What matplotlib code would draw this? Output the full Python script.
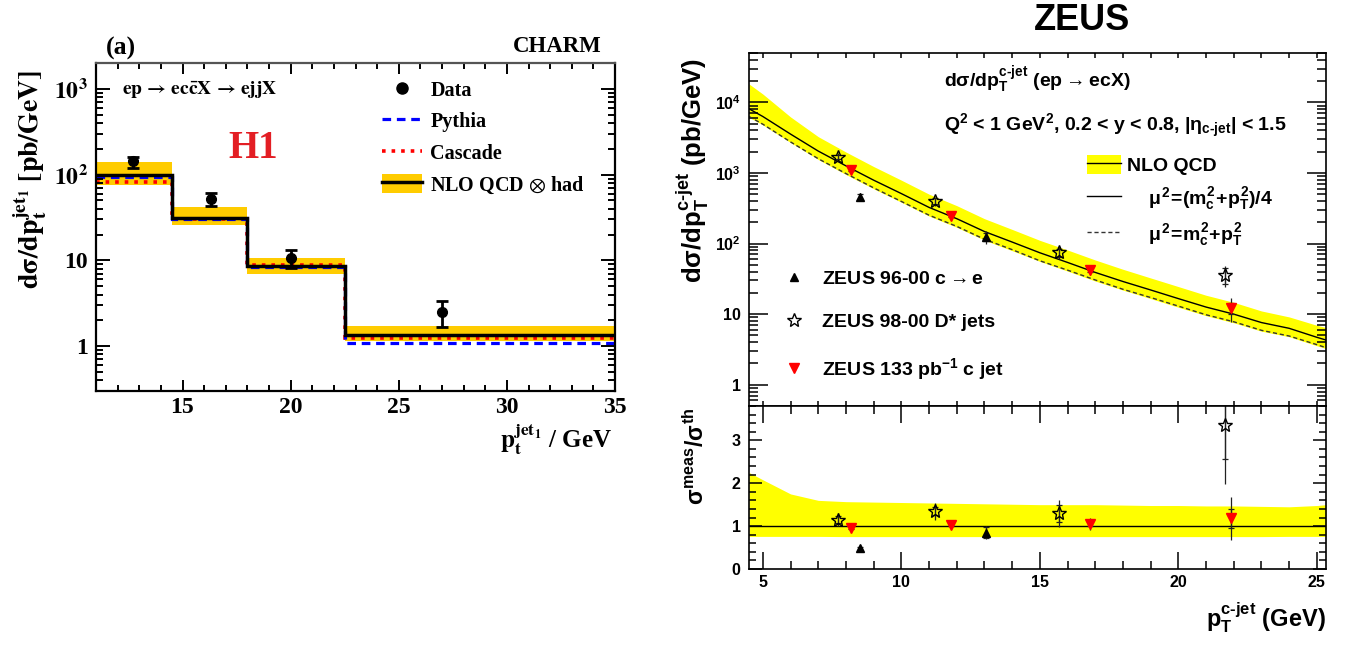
import matplotlib
matplotlib.use('Agg')
import matplotlib.pyplot as plt
import numpy as np
from matplotlib.ticker import MultipleLocator, LogLocator, NullFormatter
from matplotlib.lines import Line2D
from matplotlib.patches import Patch

plt.rcParams['mathtext.fontset'] = 'custom'
plt.rcParams['mathtext.rm'] = 'Liberation Sans:bold'
plt.rcParams['mathtext.it'] = 'Liberation Sans:bold'
plt.rcParams['mathtext.bf'] = 'Liberation Sans:bold'
plt.rcParams['mathtext.sf'] = 'Liberation Sans:bold'
plt.rcParams['mathtext.fallback'] = 'stixsans'

W, H = 1346, 649

# ---- H1 (a) CHARM : dsigma/dpt jet1
bin_edges = [11, 14.5, 18, 22.5, 35]
nlo_had = [98, 31, 8.5, 1.34]
nlo_had_lo = [76, 26, 6.9, 1.14]
nlo_had_hi = [140, 42, 10.8, 1.72]
pythia = [95, 30.5, 8.4, 1.08]
cascade = [83, 30, 8.9, 1.24]
h1_x = [12.7, 16.3, 20.0, 27.0]
h1_y = [143, 52, 10.8, 2.48]
h1_err_lo = [23, 9.5, 2.7, 0.8]
h1_err_hi = [19, 9, 2.5, 0.92]

# ---- ZEUS c-jet
nlo_x = [4.5, 5, 6, 7, 8, 9, 10, 11, 12, 13, 14, 15, 16, 17, 18, 19, 20,
         21, 22, 23, 24, 25, 25.33]
nlo_qcd = [8100, 6300, 3550, 2040, 1260, 790, 510, 325, 225, 148, 105, 74,
           54, 39, 29, 22, 16.6, 12.6, 10.0, 7.6, 6.3, 4.7, 4.3]
nlo_qcd_mu2 = [6300, 4900, 2750, 1590, 980, 615, 395, 252, 175, 115, 82, 57,
               42, 30.5, 22.5, 17.2, 13, 9.8, 7.8, 5.9, 4.9, 3.7, 3.35]
band_ratio_lo = [0.76, 0.76, 0.76, 0.76, 0.755, 0.755, 0.755, 0.755, 0.755,
                 0.755, 0.755, 0.755, 0.755, 0.755, 0.755, 0.755, 0.755,
                 0.755, 0.755, 0.755, 0.76, 0.76, 0.76]
band_ratio_hi = [2.25, 2.08, 1.75, 1.6, 1.57, 1.56, 1.55, 1.54, 1.53, 1.52,
                 1.51, 1.5, 1.5, 1.5, 1.49, 1.48, 1.48, 1.47, 1.47, 1.46,
                 1.45, 1.48, 1.5]

ce_x = [8.5, 13.05]
ce_y = [460, 125]
ce_err = [60, 25]
ce_stat = [40, 15]
ce_ratio = [0.48, 0.85]
ce_ratio_err = [0.07, 0.15]
ce_ratio_stat = [0.04, 0.13]

dst_x = [7.7, 11.2, 15.7, 21.7]
dst_y = [1700, 400, 75, 36]
dst_err = [200, 55, 14, 12]
dst_stat = [120, 35, 10, 9]
dst_ratio = [1.15, 1.35, 1.30, 3.36]
dst_ratio_err = [0.15, 0.2, 0.31, 1.37]
dst_ratio_stat = [0.08, 0.1, 0.2, 0.79]

cj_x = [8.2, 11.8, 16.8, 21.9]
cj_y = [1100, 245, 42, 12.3]
cj_err = [90, 20, 6, 4.5]
cj_stat = [40, 10, 3, 2.2]
cj_ratio = [0.95, 1.03, 1.05, 1.18]
cj_ratio_err = [0.04, 0.04, 0.15, 0.51]
cj_ratio_stat = [0.02, 0.02, 0.05, 0.23]


def px_box(x0, y0, x1, y1):
    return [x0 / W, 1 - y1 / H, (x1 - x0) / W, (y1 - y0) / H]


fig = plt.figure(figsize=(W / 100, H / 100), dpi=100)

serif = dict(family='Liberation Serif', weight='bold')
sans = dict(family='Liberation Sans', weight='bold')

# ================= left : H1 =================
axL = fig.add_axes(px_box(96, 63, 615, 391))
axL.stairs(nlo_had_hi, bin_edges, baseline=nlo_had_lo, fill=True,
           color='#ffcc00', lw=0)
axL.stairs(cascade, bin_edges, baseline=None, color='red', ls=':', lw=2.6)
axL.stairs(pythia, bin_edges, baseline=None, color='blue',
           ls=(0, (2.7, 1.8)), lw=2.3)
axL.stairs(nlo_had, bin_edges, baseline=None, color='black', lw=2.5)
axL.errorbar(h1_x, h1_y, yerr=[h1_err_lo, h1_err_hi], fmt='o', color='black',
             ms=7, capsize=4, elinewidth=2, capthick=2)

axL.set_yscale('log')
axL.set_xlim(11, 35)
axL.set_ylim(0.3, 2000)
axL.set_xticks([15, 20, 25, 30, 35], labels=['15', '20', '25', '30', '35'],
               fontsize=17, **serif)
axL.set_yticks([1, 10, 100, 1000],
               labels=['1', '10', r'$\mathbf{10^{2}}$', r'$\mathbf{10^{3}}$'],
               fontsize=17, math_fontfamily='stix', **serif)
axL.xaxis.set_minor_locator(MultipleLocator(1))
axL.yaxis.set_minor_locator(LogLocator(subs=np.arange(2, 10)))
axL.yaxis.set_minor_formatter(NullFormatter())
axL.tick_params(which='both', direction='in', top=True, right=True, width=1.4)
axL.tick_params(axis='y', which='major', length=10, pad=6)
axL.tick_params(axis='y', which='minor', length=5)
axL.tick_params(axis='x', which='major', length=7.7, pad=4)
axL.tick_params(axis='x', which='minor', length=4)
for s in axL.spines.values():
    s.set_linewidth(1.6)
axL.spines['top'].set_color('#555555')

legL = axL.legend(
    [Line2D([], [], marker='o', color='black', ls='none', ms=8),
     Line2D([], [], color='blue', ls=(0, (2.7, 1.8)), lw=2.3),
     Line2D([], [], color='red', ls=':', lw=2.6),
     (Patch(facecolor='#ffcc00', lw=0), Line2D([], [], color='black', lw=2.5))],
    ['Data', 'Pythia', 'Cascade', r'NLO QCD $\otimes$ had'],
    loc='upper left', bbox_to_anchor=(0.551, 0.95), frameon=False,
    prop=dict(size=14.5, **serif), handlelength=2.0, handleheight=1.1,
    handletextpad=0.4, labelspacing=0.5, borderaxespad=0, borderpad=0)
for t in legL.get_texts():
    t.set_math_fontfamily('stix')

fig.text(121 / W, 1 - 48 / H, '(a)', fontsize=18.5, ha='center', va='center', **serif)
fig.text(602 / W, 1 - 47 / H, 'CHARM', fontsize=16.5, ha='right', va='center', **serif)
fig.text(122 / W, 1 - 89 / H,
         r'$\mathbf{ep\, \rightarrow\, ec\bar{c}X\, \rightarrow\, ejjX}$',
         fontsize=14, ha='left', va='center', math_fontfamily='stix')
fig.text(253 / W, 1 - 148 / H, 'H1', color='#e31e24', fontsize=28,
         ha='center', va='center', **serif)
fig.text(30 / W, 1 - 180 / H, r'$\mathbf{d\sigma/dp_t^{jet_{1}}\ [pb/GeV]}$',
         fontsize=20, rotation=90, ha='center', va='center', math_fontfamily='stix')
fig.text(612 / W, 1 - 440 / H, r'$\mathbf{p_t^{jet_{1}}}$ / GeV', fontsize=18,
         ha='right', va='center', math_fontfamily='stix', **serif)

# ================= right : ZEUS =================
axT = fig.add_axes(px_box(749, 53, 1326, 406))
axR = fig.add_axes(px_box(749, 406, 1326, 569))

nlo_arr = np.array(nlo_qcd)
axT.fill_between(nlo_x, nlo_arr * np.array(band_ratio_lo),
                 nlo_arr * np.array(band_ratio_hi), color='#ffff00', lw=0)
axT.plot(nlo_x, nlo_qcd, color='black', lw=1)
axT.plot(nlo_x, nlo_qcd_mu2, color='#333333', ls=(0, (3, 2)), lw=1)

axR.fill_between(nlo_x, band_ratio_lo, band_ratio_hi, color='#ffff00', lw=0)
axR.axhline(1, color='black', lw=1)


def points(ax, x, y, err, stat, **kw):
    ax.errorbar(x, y, yerr=err, fmt='none', ecolor='#222222', elinewidth=0.9)
    ax.errorbar(x, y, yerr=stat, fmt='none', ecolor='#222222', elinewidth=0.9,
                capsize=2.5, capthick=0.9)
    ax.plot(x, y, ls='none', **kw)


tri_kw = dict(marker='^', color='black', ms=6)
star_kw = dict(marker='*', mfc='none', mec='black', mew=1, ms=10)
red_kw = dict(marker='v', color='red', ms=7)

points(axT, ce_x, ce_y, ce_err, ce_stat, **tri_kw)
points(axT, dst_x, dst_y, dst_err, dst_stat, **star_kw)
points(axT, cj_x, cj_y, cj_err, cj_stat, **red_kw)
points(axR, ce_x, ce_ratio, ce_ratio_err, ce_ratio_stat, **tri_kw)
points(axR, dst_x, dst_ratio, dst_ratio_err, dst_ratio_stat, **star_kw)
points(axR, cj_x, cj_ratio, cj_ratio_err, cj_ratio_stat, **red_kw)

for ax in (axT, axR):
    ax.set_xlim(4.5, 25.33)
    ax.xaxis.set_major_locator(MultipleLocator(5))
    ax.xaxis.set_minor_locator(MultipleLocator(1))
    ax.tick_params(which='both', direction='in', top=True, right=True, width=1.1)
    for s in ax.spines.values():
        s.set_linewidth(1.2)

axT.set_yscale('log')
axT.set_ylim(0.5, 5e4)
axT.set_yticks([1, 10, 100, 1e3, 1e4],
               labels=['1', '10', '$10^{2}$', '$10^{3}$', '$10^{4}$'],
               fontsize=11.5, **sans)
axT.yaxis.set_minor_locator(LogLocator(subs=np.arange(2, 10)))
axT.yaxis.set_minor_formatter(NullFormatter())
axT.tick_params(labelbottom=False)
axT.tick_params(axis='x', which='both', length=3.5)
axT.tick_params(axis='y', which='major', length=13.5, pad=6)
axT.tick_params(axis='y', which='minor', length=6.5)

axR.set_ylim(0, 3.8)
axR.set_yticks([0, 1, 2, 3], labels=['0', '1', '2', '3'], fontsize=11.5, **sans)
axR.set_xticks([5, 10, 15, 20, 25], labels=['5', '10', '15', '20', '25'],
               fontsize=11.5, **sans)
axR.yaxis.set_minor_locator(MultipleLocator(0.2))
axR.tick_params(axis='x', which='major', length=12, pad=4)
axR.tick_params(axis='x', which='minor', length=5.8)
axR.tick_params(axis='y', which='major', length=9.4, pad=6)
axR.tick_params(axis='y', which='minor', length=5)

leg1 = axT.legend(
    [(Patch(facecolor='#ffff00', lw=0), Line2D([], [], color='black', lw=1)),
     Line2D([], [], color='black', lw=1),
     Line2D([], [], color='#333333', ls=(0, (3, 2)), lw=1)],
    ['NLO QCD', r'    $\mu^2\!=\!(m_c^2\!+\!p_T^2)/4$', r'    $\mu^2\!=\!m_c^2\!+\!p_T^2$'],
    loc='upper left', bbox_to_anchor=(0.586, 0.711), frameon=False,
    prop=dict(size=14, **sans), handlelength=1.75, handleheight=1.15,
    handletextpad=0.3, labelspacing=0.5, borderaxespad=0, borderpad=0)
axT.add_artist(leg1)
axT.legend(
    [Line2D([], [], ls='none', **tri_kw), Line2D([], [], ls='none', **star_kw),
     Line2D([], [], ls='none', **red_kw)],
    [r'ZEUS 96-00 c$\rightarrow$e', 'ZEUS 98-00 D* jets',
     r'ZEUS 133 pb$^{-1}$ c jet'],
    loc='upper left', bbox_to_anchor=(0.055, 0.385), frameon=False,
    prop=dict(size=14, **sans), handlelength=1.4, handletextpad=0.7,
    labelspacing=1.3, borderaxespad=0, borderpad=0)

fig.text(1082 / W, 1 - 20 / H, 'ZEUS', fontsize=26, ha='center', va='center', **sans)
fig.text(944 / W, 1 - 80 / H, r'd$\sigma$/dp$_T^{c\text{-}jet}$ (ep$\rightarrow$ecX)',
         fontsize=14, ha='left', va='center', **sans)
fig.text(944 / W, 1 - 126 / H,
         r'Q$^2$ < 1 GeV$^2$, 0.2 < y < 0.8, $|\eta_{c\text{-}jet}|$ < 1.5',
         fontsize=14, ha='left', va='center', **sans)
fig.text(693 / W, 1 - 170 / H, r'd$\sigma$/dp$_T^{c\text{-}jet}$ (pb/GeV)',
         fontsize=18.5, rotation=90, ha='center', va='center', **sans)
fig.text(696 / W, 1 - 456 / H, r'$\sigma^{meas}/\sigma^{th}$',
         fontsize=16.5, rotation=90, ha='center', va='center', **sans)
fig.text(1326 / W, 1 - 618 / H, r'p$_T^{c\text{-}jet}$ (GeV)',
         fontsize=17, ha='right', va='center', **sans)

fig.savefig('out.png', dpi=100)
